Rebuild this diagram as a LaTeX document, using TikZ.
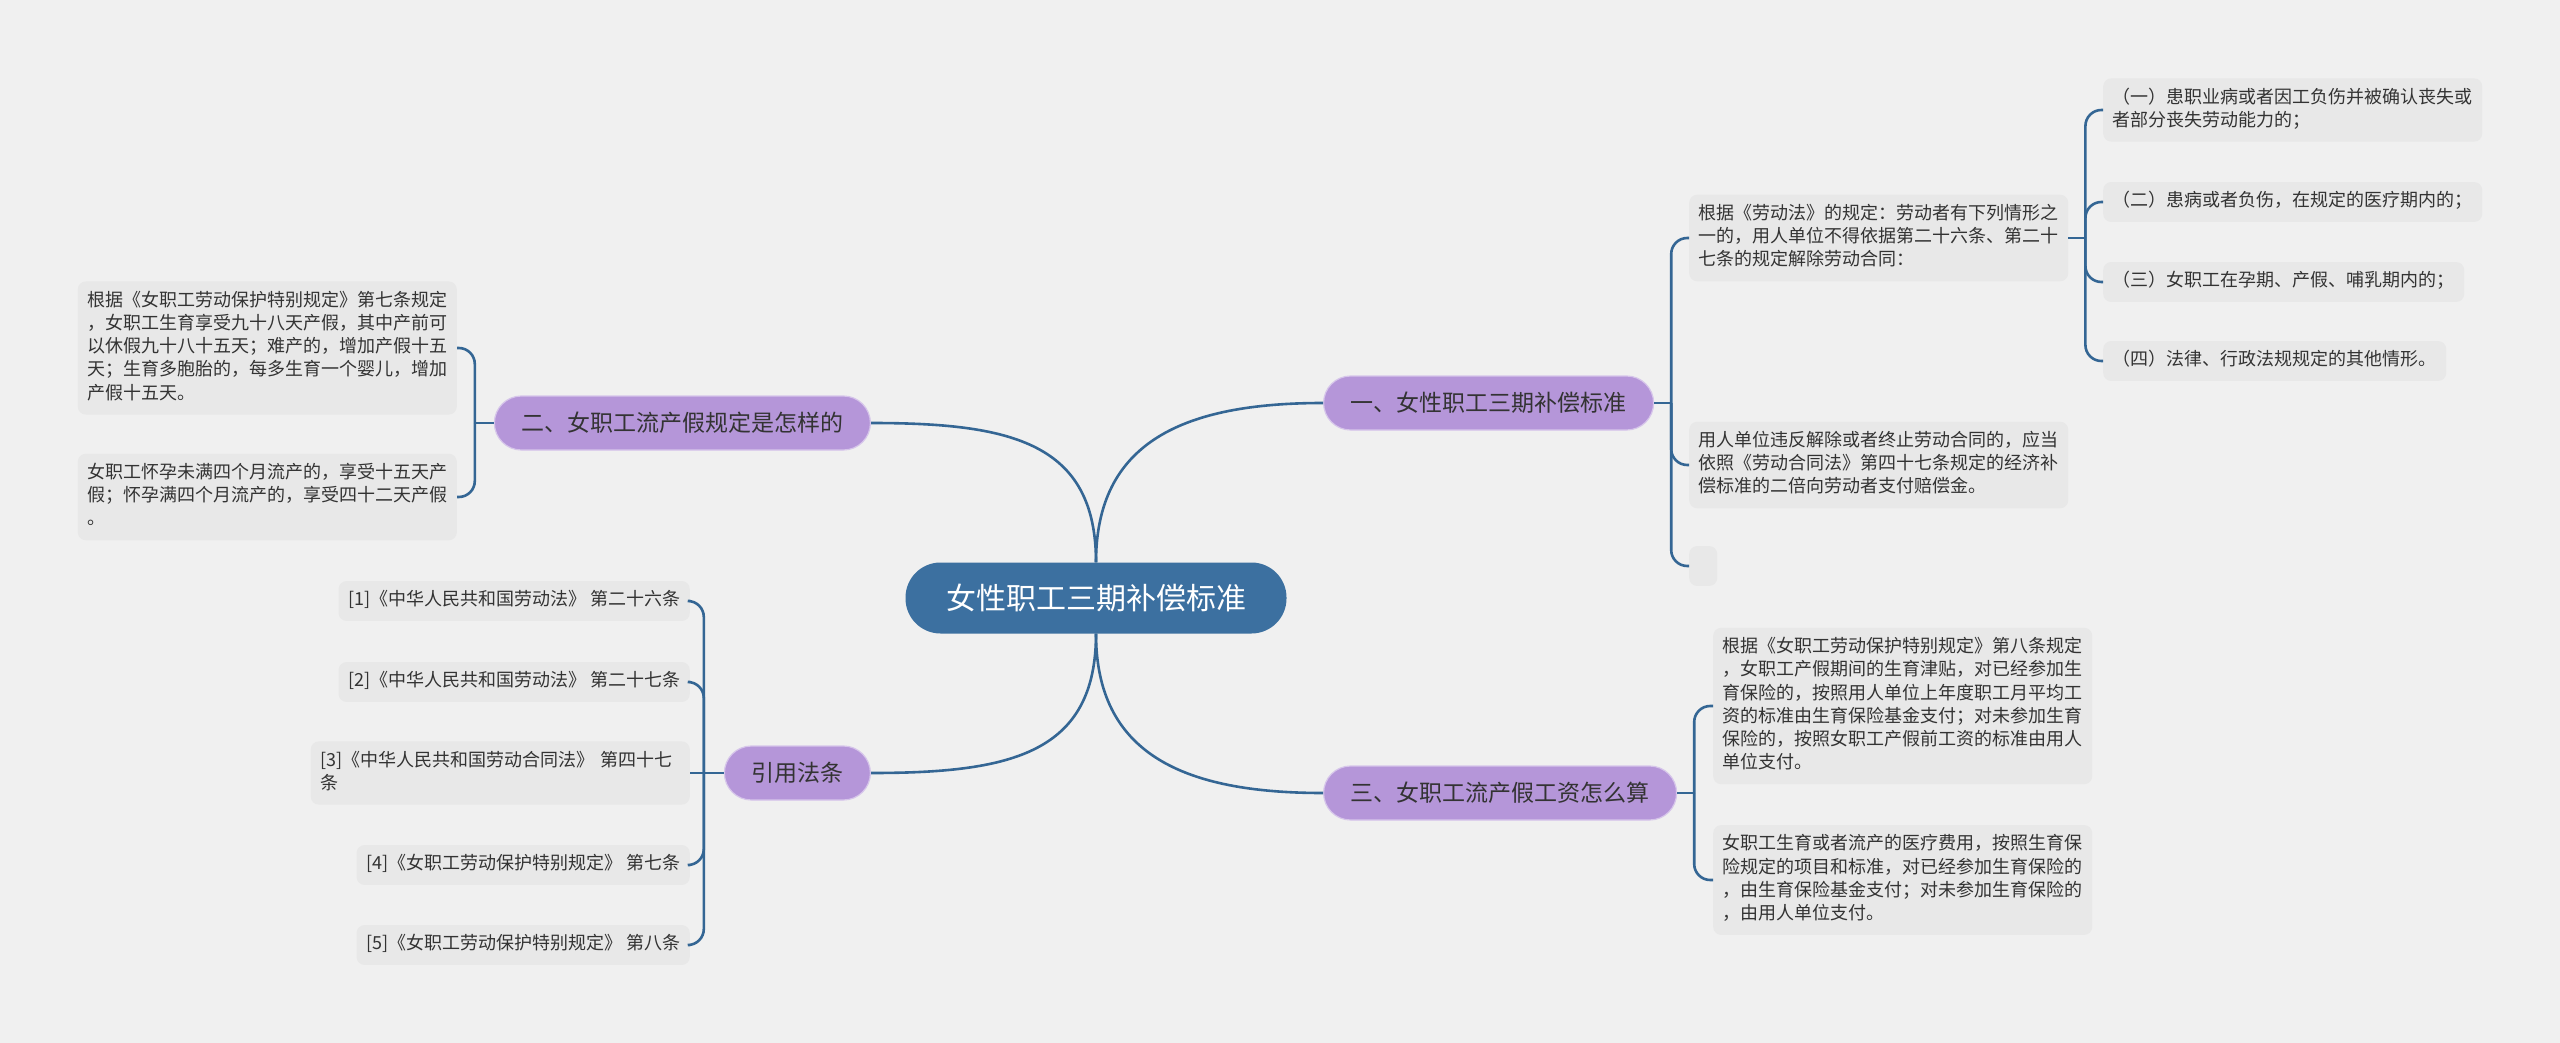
\documentclass[tikz,border=0pt]{standalone}
\usepackage{fontspec}
\setmainfont{Noto Sans CJK SC}

\definecolor{paper}{RGB}{240,240,240}
\definecolor{rootblue}{RGB}{60,112,160}
\definecolor{edgeblue}{RGB}{52,102,148}
\definecolor{topicpurple}{RGB}{181,150,217}
\definecolor{leafgray}{RGB}{232,232,232}
\definecolor{inkgray}{RGB}{51,51,51}

\begin{document}
\begin{tikzpicture}
	[x=1pt,y=-1pt,%
	root/.style ={rectangle,	rounded corners=35pt,	fill=rootblue,		text=white,	minimum width=381pt,	minimum height=71pt,	font=\fontsize{30}{36}\selectfont},%
	topic/.style={rectangle,	rounded corners=27pt,	fill=topicpurple,	draw=topicpurple!55!white,	line width=1.2pt,	text=inkgray,	inner xsep=27pt,	minimum height=54pt,	font=\fontsize{23}{28}\selectfont},%
	leaf/.style ={rectangle,	rounded corners=8pt,	fill=leafgray,		text=inkgray,	inner xsep=9.5pt,	inner ysep=8.3pt,	align=left,	font=\fontsize{18}{23.3}\selectfont,	execute at begin node=\strut,	execute at end node=\strut},%
	wide/.style ={leaf,	text width=360pt},%
	link/.style ={draw=edgeblue,	line width=2.6pt},%
	fork/.style ={link,	rounded corners=16pt},%
	]

	\path [use as bounding box, fill=paper] (0,0) rectangle (2560,1043);

	% nodes
	\node (root) at (1096,598) [root] {女性职工三期补偿标准};

	\node (topic1) at (1323,403) [topic, anchor=west] {一、女性职工三期补偿标准};
	\node (topic2) at (871,423)  [topic, anchor=east] {二、女职工流产假规定是怎样的};
	\node (topic3) at (1323,793) [topic, anchor=west] {三、女职工流产假工资怎么算};
	\node (topic4) at (871,773)  [topic, anchor=east] {引用法条};

	\node (item11) at (1689,238) [wide, anchor=west] {根据《劳动法》的规定：劳动者有下列情形之\\一的，用人单位不得依据第二十六条、第二十\\七条的规定解除劳动合同：};
	\node (item12) at (1689,465) [wide, anchor=west] {用人单位违反解除或者终止劳动合同的，应当\\依照《劳动合同法》第四十七条规定的经济补\\偿标准的二倍向劳动者支付赔偿金。};
	\node (item13) at (1689,566) [leaf, anchor=west, minimum width=28pt] {};

	\node (sub1) at (2103,110) [wide, anchor=west] {（一）患职业病或者因工负伤并被确认丧失或\\者部分丧失劳动能力的；};
	\foreach \i/\y/\t in {2/202/{（二）患病或者负伤，在规定的医疗期内的；},%
		3/282/{（三）女职工在孕期、产假、哺乳期内的；},%
		4/361/{（四）法律、行政法规规定的其他情形。}}
		\node (sub\i) at (2103,\y) [leaf, anchor=west] {\t};

	\node (item21) at (457,348) [wide, anchor=east] {根据《女职工劳动保护特别规定》第七条规定\\，女职工生育享受九十八天产假，其中产前可\\以休假九十八十五天；难产的，增加产假十五\\天；生育多胞胎的，每多生育一个婴儿，增加\\产假十五天。};
	\node (item22) at (457,497) [wide, anchor=east] {女职工怀孕未满四个月流产的，享受十五天产\\假；怀孕满四个月流产的，享受四十二天产假\\。};

	\node (item31) at (1713,706) [wide, anchor=west] {根据《女职工劳动保护特别规定》第八条规定\\，女职工产假期间的生育津贴，对已经参加生\\育保险的，按照用人单位上年度职工月平均工\\资的标准由生育保险基金支付；对未参加生育\\保险的，按照女职工产假前工资的标准由用人\\单位支付。};
	\node (item32) at (1713,880) [wide, anchor=west] {女职工生育或者流产的医疗费用，按照生育保\\险规定的项目和标准，对已经参加生育保险的\\，由生育保险基金支付；对未参加生育保险的\\，由用人单位支付。};

	\foreach \i/\y/\t in {1/601/{[1]《中华人民共和国劳动法》 第二十六条},%
		2/682/{[2]《中华人民共和国劳动法》 第二十七条},%
		4/865/{[4]《女职工劳动保护特别规定》 第七条},%
		5/945/{[5]《女职工劳动保护特别规定》 第八条}}
		\node (cite\i) at (690,\y) [leaf, anchor=east] {\t};
	\node (cite3) at (690,773) [wide, anchor=east] {[3]《中华人民共和国劳动合同法》 第四十七\\条};

	% interconnections
	\draw [link] (root.north) .. controls +(0,-120) and +(-140,0) .. (topic1.west);
	\draw [link] (root.north) .. controls +(0,-120) and +(140,0) .. (topic2.east);
	\draw [link] (root.south) .. controls +(0,120) and +(-140,0) .. (topic3.west);
	\draw [link] (root.south) .. controls +(0,120) and +(140,0) .. (topic4.east);

	\draw [link] (topic1.east) -- ++(17,0) coordinate (fork1);
	\foreach \n in {item11,item12,item13} \draw [fork] (fork1) |- (\n.west);

	\draw [link] (item11.east) -- ++(17,0) coordinate (fork5);
	\foreach \i in {1,...,4} \draw [fork] (fork5) |- (sub\i.west);

	\draw [link] (topic2.west) -- ++(-19,0) coordinate (fork2);
	\foreach \n in {item21,item22} \draw [fork] (fork2) |- (\n.east);

	\draw [link] (topic3.east) -- ++(17,0) coordinate (fork3);
	\foreach \n in {item31,item32} \draw [fork] (fork3) |- (\n.west);

	\draw [link] (topic4.west) -- ++(-20,0) coordinate (fork4) -- (cite3.east);
	\foreach \i in {1,2,4,5} \draw [fork] (fork4) |- (cite\i.east);

\end{tikzpicture}
\end{document}
